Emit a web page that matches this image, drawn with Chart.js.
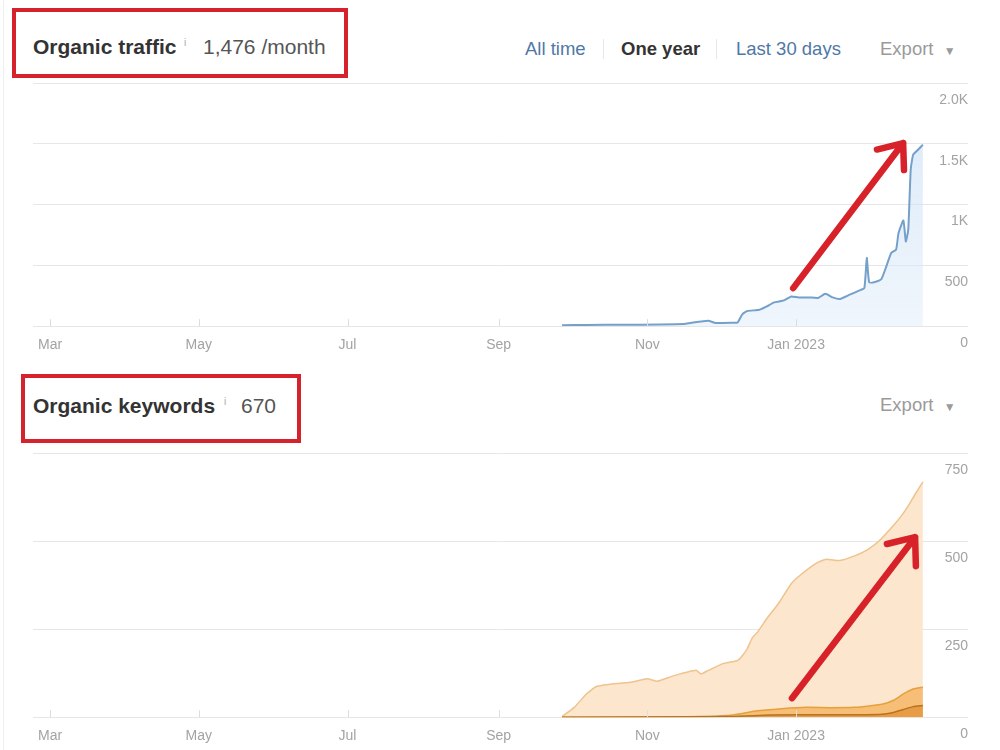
<!DOCTYPE html>
<html>
<head>
<meta charset="utf-8">
<script src="https://cdn.jsdelivr.net/npm/chart.js@4.4.1/dist/chart.umd.min.js"></script>
<style>
    body { margin: 0; background: #fff; font-family: "Liberation Sans", Arial, sans-serif; }
    #page { position: relative; width: 1000px; height: 750px; overflow: hidden; }
    .abs { position: absolute; white-space: nowrap; }
    .box { position: absolute; border: 4px solid #d6222c; box-sizing: border-box; }
    .title { font-size: 21px; line-height: 24px; font-weight: bold; color: #333; }
    .metric { font-size: 21px; line-height: 24px; color: #555; }
    .info { font-size: 10px; line-height: 12px; color: #aaa; }
    .link { font-size: 18.5px; line-height: 22px; color: #4f78a6; }
    .active { color: #333; font-weight: bold; }
    .export { font-size: 18.5px; line-height: 22px; color: #9a9a9a; }
    .sep { position: absolute; width: 1px; height: 20px; background: #e8e8e8; }
    canvas { position: absolute; left: 0; }
</style>
</head>
<body>
<div id="page">
    <div class="abs" style="left:3px;top:0;width:1px;height:750px;background:#efefef"></div>

    <!-- organic traffic header -->
    <div class="box" style="left:12px;top:8px;width:336px;height:70px"></div>
    <div class="abs title" style="left:33px;top:35px">Organic traffic</div>
    <div class="abs info" style="left:184px;top:37px">i</div>
    <div class="abs metric" style="left:203px;top:35px">1,476 /month</div>

    <div class="abs link" style="left:525px;top:38px">All time</div>
    <div class="sep" style="left:603px;top:39px"></div>
    <div class="abs link active" style="left:621px;top:38px">One year</div>
    <div class="sep" style="left:716px;top:39px"></div>
    <div class="abs link" style="left:736px;top:38px">Last 30 days</div>
    <div class="abs export" style="left:880px;top:38px">Export &nbsp;<span style="font-size:12px">&#9660;</span></div>

    <canvas id="trafficChart" width="1000" height="274" style="top:83px"></canvas>

    <!-- organic keywords header -->
    <div class="box" style="left:21px;top:374px;width:280px;height:69px"></div>
    <div class="abs title" style="left:33px;top:394px">Organic keywords</div>
    <div class="abs info" style="left:224px;top:396px">i</div>
    <div class="abs metric" style="left:241px;top:394px">670</div>
    <div class="abs export" style="left:880px;top:394px">Export &nbsp;<span style="font-size:12px">&#9660;</span></div>

    <canvas id="keywordsChart" width="1000" height="295" style="top:453px"></canvas>
</div>

<script>
// x values are days counted from 1 Mar 2022
const monthTickDays = [0, 61, 122, 184, 245, 306];
const monthTickLabels = ['Mar', 'May', 'Jul', 'Sep', 'Nov', 'Jan 2023'];

// Organic traffic
const trafficDays = [210, 220, 235, 250, 260, 263, 270, 273, 280, 282, 284, 286, 291, 294, 297, 301, 304, 307, 311, 315,
    318, 321, 324, 328, 332, 334, 335, 336, 339, 341, 343, 345, 347, 348, 350, 351, 352, 353, 354, 356, 358];
const trafficValues = [8, 10, 12, 14, 18, 28, 45, 26, 28, 30, 100, 125, 135, 163, 196, 212, 245, 236, 237, 232,
    267, 237, 224, 259, 294, 314, 561, 360, 368, 388, 492, 602, 629, 766, 870, 697, 794, 1287, 1410, 1451, 1493];
const trafficTickValues = [0, 500, 1000, 1500, 2000];
const trafficTickLabels = ['0', '500', '1K', '1.5K', '2.0K'];

// Organic keywords (cumulative levels of the stacked bands)
const kwAllDays = [210, 215, 220, 224, 229, 238, 245, 249, 256, 265, 267, 270, 276, 282, 284, 286, 288, 290, 294, 299,
    304, 308, 314, 318, 324, 330, 335, 340, 346, 349, 352, 355, 358];
const kwAllValues = [2, 28, 66, 87, 93, 99, 109, 102, 118, 133, 123, 133, 152, 161, 175, 195, 225, 240, 280, 325,
    379, 405, 436, 448, 445, 458, 474, 500, 545, 570, 600, 635, 668];
const kwTop10Days = [210, 250, 270, 280, 290, 300, 310, 320, 330, 336, 342, 346, 350, 354, 358];
const kwTop10Values = [0, 1, 2, 6, 18, 24, 28, 27, 28, 32, 38, 48, 66, 80, 85];
const kwTop3Days = [210, 280, 295, 320, 340, 345, 350, 354, 358];
const kwTop3Values = [0, 2, 6, 7, 8, 12, 22, 30, 33];
const kwTickValues = [0, 250, 500, 750];
const kwTickLabels = ['0', '250', '500', '750'];

const toPoints = (xs, ys) => xs.map((x, i) => ({ x: x, y: ys[i] }));

// month tick marks above the baseline + red annotation arrow
const decorPlugin = {
    id: 'decor',
    afterDatasetsDraw(chart, args, opts) {
        const ctx = chart.ctx;
        const xs = chart.scales.x;
        const ys = chart.scales.y;
        const base = ys.getPixelForValue(0);
        ctx.save();
        ctx.strokeStyle = '#dddddd';
        ctx.lineWidth = 1;
        monthTickDays.forEach(d => {
            const px = Math.round(xs.getPixelForValue(d)) + 0.5;
            ctx.beginPath();
            ctx.moveTo(px, base);
            ctx.lineTo(px, base - 7);
            ctx.stroke();
        });

        const a = opts.arrow;
        const x1 = xs.getPixelForValue(a.from[0]), y1 = ys.getPixelForValue(a.from[1]);
        const x2 = xs.getPixelForValue(a.to[0]), y2 = ys.getPixelForValue(a.to[1]);
        const ang = Math.atan2(y2 - y1, x2 - x1);
        ctx.strokeStyle = '#d8222a';
        ctx.lineWidth = 6.5;
        ctx.lineCap = 'round';
        ctx.lineJoin = 'round';
        ctx.beginPath();
        ctx.moveTo(x1, y1);
        ctx.lineTo(x2, y2);
        ctx.moveTo(x2 - a.head * Math.cos(ang - 0.68), y2 - a.head * Math.sin(ang - 0.68));
        ctx.lineTo(x2, y2);
        ctx.lineTo(x2 - a.head * Math.cos(ang + 0.68), y2 - a.head * Math.sin(ang + 0.68));
        ctx.stroke();
        ctx.restore();
    }
};

const makeOptions = (yMax, yStep, tickValues, tickLabels, arrow) => ({
    responsive: false,
    animation: false,
    layout: { padding: { left: 33, right: 32, top: 0, bottom: 0 } },
    plugins: {
        legend: { display: false },
        tooltip: { enabled: false },
        decor: { arrow: arrow }
    },
    scales: {
        x: {
            type: 'linear',
            min: -7,
            max: 376.5,
            grid: { display: false },
            border: { display: false },
            afterBuildTicks: (scale) => {
                scale.ticks = monthTickDays.map(d => ({ value: d }));
            },
            afterFit: (scale) => { scale.paddingLeft = 0; scale.paddingRight = 0; },
            ticks: {
                autoSkip: false,
                maxRotation: 0,
                padding: 3,
                color: '#a3a3a3',
                font: { family: "'Liberation Sans', Arial, sans-serif", size: 14 },
                callback: (value) => monthTickLabels[monthTickDays.indexOf(value)]
            }
        },
        y: {
            position: 'right',
            min: 0,
            max: yMax,
            grid: { color: '#e6e6e6', drawTicks: false },
            border: { display: false },
            afterFit: (scale) => { scale.paddingTop = 0; scale.paddingBottom = 0; },
            ticks: {
                stepSize: yStep,
                mirror: true,
                padding: 0,
                labelOffset: 17,
                color: '#a3a3a3',
                font: { family: "'Liberation Sans', Arial, sans-serif", size: 14 },
                callback: (value) => tickLabels[tickValues.indexOf(value)]
            }
        }
    }
});

const trafficCtx = document.getElementById('trafficChart').getContext('2d');
const trafficFill = trafficCtx.createLinearGradient(0, 60, 0, 243);
trafficFill.addColorStop(0, 'rgba(196, 220, 244, 0.55)');
trafficFill.addColorStop(1, 'rgba(220, 234, 249, 0.45)');

new Chart(trafficCtx, {
    type: 'line',
    data: {
        datasets: [{
            label: 'Organic traffic',
            data: toPoints(trafficDays, trafficValues),
            borderColor: '#74a0c9',
            backgroundColor: trafficFill,
            borderWidth: 2,
            fill: 'origin',
            tension: 0.15,
            pointRadius: 0
        }]
    },
    options: makeOptions(2000, 500, trafficTickValues, trafficTickLabels,
        { from: [304.8, 313], to: [349.9, 1506], head: 27 }),
    plugins: [decorPlugin]
});

const keywordsCtx = document.getElementById('keywordsChart').getContext('2d');
new Chart(keywordsCtx, {
    type: 'line',
    data: {
        datasets: [
            {
                label: 'Top 3',
                data: toPoints(kwTop3Days, kwTop3Values),
                borderColor: '#b8731c',
                backgroundColor: '#e89c45',
                borderWidth: 1.5,
                fill: 'origin',
                tension: 0.15,
                pointRadius: 0
            },
            {
                label: '4-10',
                data: toPoints(kwTop10Days, kwTop10Values),
                borderColor: '#e6a03c',
                backgroundColor: '#f7be78',
                borderWidth: 1.5,
                fill: 'origin',
                tension: 0.15,
                pointRadius: 0
            },
            {
                label: '11+',
                data: toPoints(kwAllDays, kwAllValues),
                borderColor: '#efc38d',
                backgroundColor: '#fce6cd',
                borderWidth: 1.5,
                fill: 'origin',
                tension: 0.15,
                pointRadius: 0
            }
        ]
    },
    options: makeOptions(750, 250, kwTickValues, kwTickLabels,
        { from: [304.3, 54], to: [354.8, 511], head: 29 }),
    plugins: [decorPlugin]
});
</script>
</body>
</html>
